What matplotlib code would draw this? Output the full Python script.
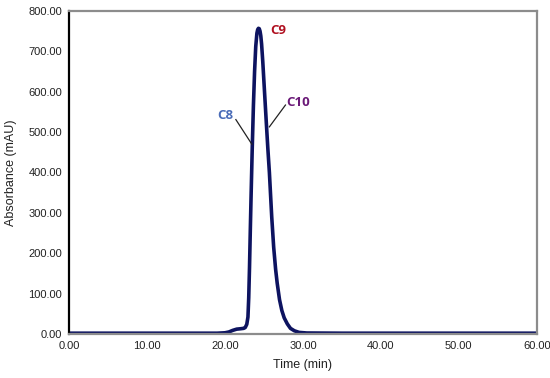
import matplotlib.pyplot as plt

# chromatogram
time_min = [0, 5, 10, 15, 19, 20, 20.5, 21, 21.5, 22, 22.4, 22.6, 22.8, 22.95, 23.05,
            23.15, 23.25, 23.35, 23.5, 23.65, 23.8, 23.95, 24.1, 24.2, 24.3, 24.4,
            24.5, 24.6, 24.7, 24.85, 25.0, 25.15, 25.3, 25.5, 25.7, 25.85, 26.0, 26.25,
            26.5, 26.7, 27.0, 27.3, 27.6, 28.0, 28.4, 28.9, 29.5, 30.5, 35, 40, 50, 60]
absorb = [2, 2, 2, 2, 2, 3, 5, 9, 12, 13, 14, 16, 24, 42, 90,
          165, 255, 340, 460, 565, 650, 712, 745, 754, 757, 756,
          750, 738, 718, 675, 625, 575, 525, 460, 400, 345, 290, 215,
          160, 126, 85, 58, 40, 25, 14, 8, 4, 2.5, 2, 2, 2, 2]

xticks = [0, 10, 20, 30, 40, 50, 60]
yticks = [0, 100, 200, 300, 400, 500, 600, 700, 800]

# peak labels: text position, line ends, colour
peaks = ['C8', 'C9', 'C10']
peak_text = [(20.1, 542), (26.9, 752), (29.4, 574)]
peak_line = [((21.4, 531), (23.45, 470)), None, ((27.76, 567), (25.7, 513))]
peak_col = ['#4a6cb8', '#b01020', '#6b1a78']

plt.rcParams['font.family'] = ['Liberation Sans', 'DejaVu Sans']

fig = plt.figure(figsize=(5.5, 3.78), dpi=100)
ax = fig.add_axes([0.1255, 0.1164, 0.8505, 0.8546])

ax.plot(time_min, absorb, color='#0d1360', lw=2.6, solid_joinstyle='round')

ax.set_xlim(0, 60)
ax.set_ylim(0, 800)
ax.set_xticks(xticks)
ax.set_yticks(yticks)
ax.set_xticklabels([f'{v:.2f}' for v in xticks], fontsize=8, color='#222222')
ax.set_yticklabels([f'{v:.2f}' for v in yticks], fontsize=8, color='#222222')
ax.tick_params(length=0, pad=5)
ax.set_xlabel('Time (min)', fontsize=9, labelpad=6, color='#222222')
ax.set_ylabel('Absorbance (mAU)', fontsize=9, labelpad=8, color='#222222')

for s in ['top', 'right', 'bottom']:
    ax.spines[s].set_color('#8c8c8c')
    ax.spines[s].set_linewidth(1.6)
ax.spines['left'].set_color('black')
ax.spines['left'].set_linewidth(1.6)

for name, pos, ln, c in zip(peaks, peak_text, peak_line, peak_col):
    ax.text(pos[0], pos[1], name, color=c, fontsize=9.5, fontweight='bold',
            ha='center', va='center', family=['Open Sans', 'DejaVu Sans'])
    if ln is not None:
        ax.plot([ln[0][0], ln[1][0]], [ln[0][1], ln[1][1]], color='#222222', lw=0.9)

fig.savefig('out.png', dpi=100)
